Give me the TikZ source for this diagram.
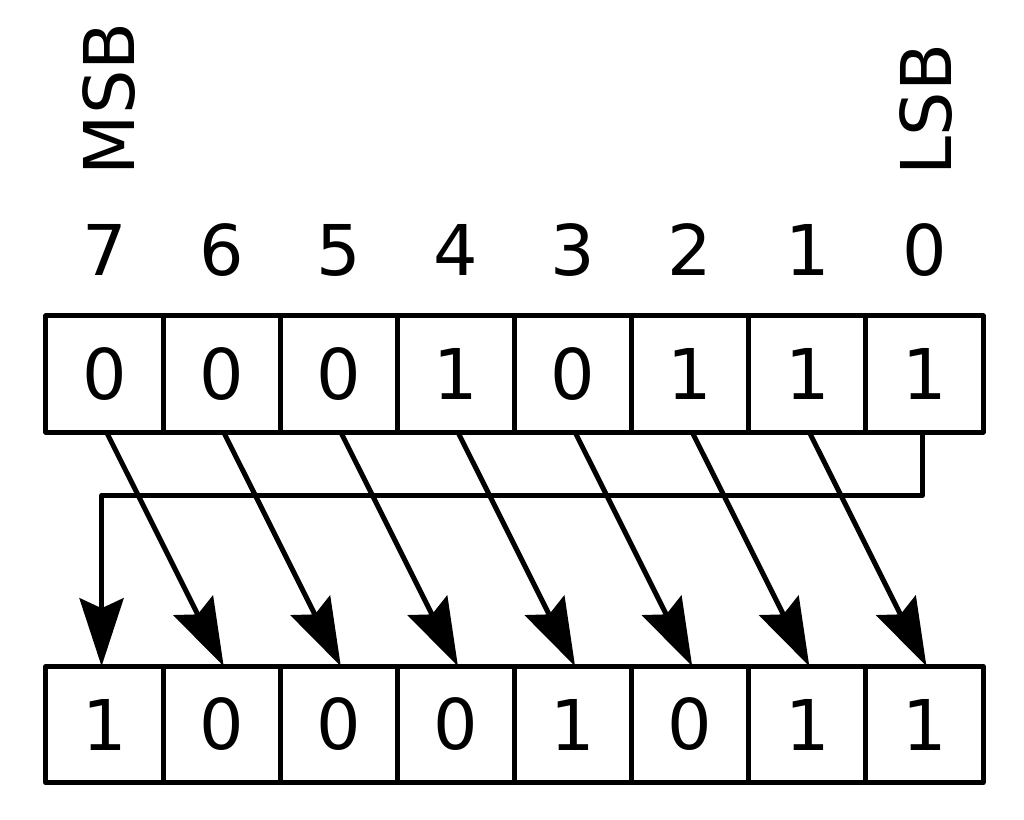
\documentclass[tikz,border=0pt]{standalone}
\usepackage{fontspec}
\setmainfont{DejaVu Sans}
\usetikzlibrary{positioning,arrows.meta}

\begin{document}
\begin{tikzpicture}[x=1pt,y=-1pt,line width=5pt,line join=round,
  cell/.style={draw,rectangle,inner sep=0pt,outer sep=0pt,
    minimum width=117.125pt,minimum height=116.5pt,
    font=\fontsize{70}{84}\selectfont},
  idx/.style={inner sep=0pt,anchor=base,font=\fontsize{70}{84}\selectfont},
  tag/.style={inner sep=0pt,anchor=base west,rotate=90,font=\fontsize{70}{84}\selectfont},
  move/.style={-{Stealth[length=68pt,width=44pt,inset=10pt]}}]
\useasboundingbox (0,0) rectangle (1024,819);
% register before
\node[cell] (t7) at (104.56,374) {\raisebox{-2pt}{0}};
\node[cell,right=0pt of t7] (t6) {\raisebox{-2pt}{0}};
\node[cell,right=0pt of t6] (t5) {\raisebox{-2pt}{0}};
\node[cell,right=0pt of t5] (t4) {\raisebox{-2pt}{1}};
\node[cell,right=0pt of t4] (t3) {\raisebox{-2pt}{0}};
\node[cell,right=0pt of t3] (t2) {\raisebox{-2pt}{1}};
\node[cell,right=0pt of t2] (t1) {\raisebox{-2pt}{1}};
\node[cell,right=0pt of t1] (t0) {\raisebox{-2pt}{1}};
% register after
\node[cell] (b7) at (104.56,724.5) {\raisebox{-2pt}{1}};
\node[cell,right=0pt of b7] (b6) {\raisebox{-2pt}{0}};
\node[cell,right=0pt of b6] (b5) {\raisebox{-2pt}{0}};
\node[cell,right=0pt of b5] (b4) {\raisebox{-2pt}{0}};
\node[cell,right=0pt of b4] (b3) {\raisebox{-2pt}{1}};
\node[cell,right=0pt of b3] (b2) {\raisebox{-2pt}{0}};
\node[cell,right=0pt of b2] (b1) {\raisebox{-2pt}{1}};
\node[cell,right=0pt of b1] (b0) {\raisebox{-2pt}{1}};
% bit numbers
\foreach \i in {0,...,7}
  \node[idx] (i\i) at ([yshift=40pt]t\i.north) {\i};
\node[tag] (msb) at ([xshift=29.5pt,yshift=98pt]i7.base) {MSB};
\node[tag] (lsb) at ([xshift=27.5pt,yshift=98pt]i0.base) {LSB};
% rotate right by one
\draw[move] ([xshift=2pt]t7.south) -- ([xshift=2pt]b6.north);
\draw[move] ([xshift=2pt]t6.south) -- ([xshift=2pt]b5.north);
\draw[move] ([xshift=2pt]t5.south) -- ([xshift=2pt]b4.north);
\draw[move] ([xshift=2pt]t4.south) -- ([xshift=2pt]b3.north);
\draw[move] ([xshift=2pt]t3.south) -- ([xshift=2pt]b2.north);
\draw[move] ([xshift=2pt]t2.south) -- ([xshift=2pt]b1.north);
\draw[move] ([xshift=2pt]t1.south) -- ([xshift=2pt]b0.north);
\draw[move] ([xshift=-2pt]t0.south) -- ++(0,63) -| ([xshift=-3pt]b7.north);
\end{tikzpicture}
\end{document}
